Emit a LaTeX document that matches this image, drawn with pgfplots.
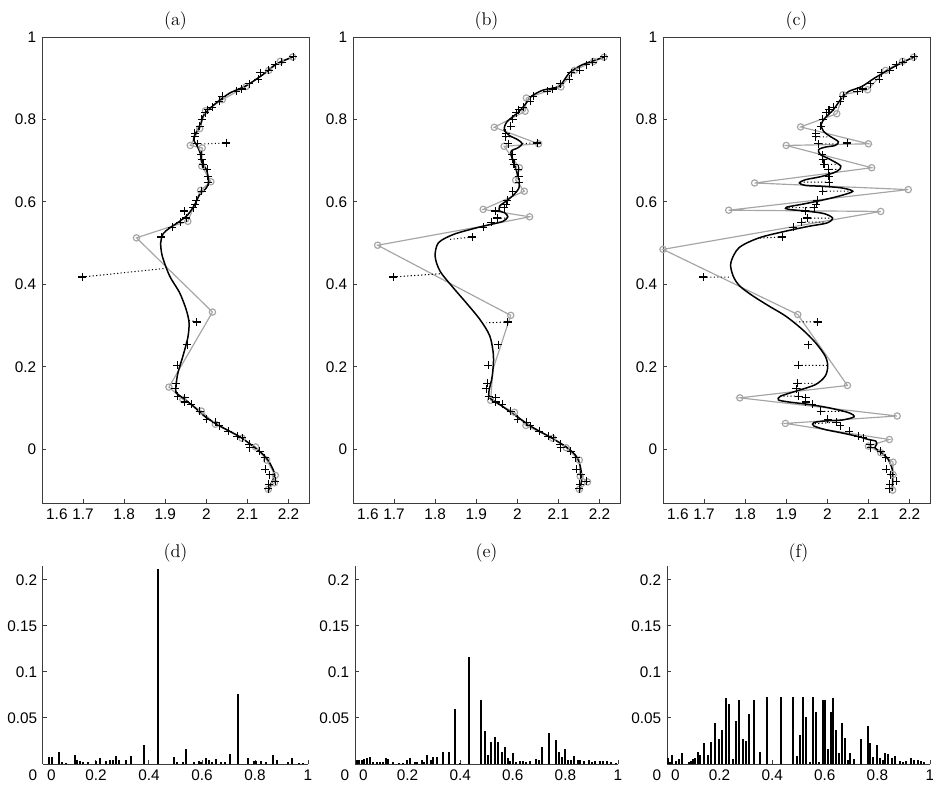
\documentclass[border=0pt]{standalone}
\usepackage{fontspec}
\newfontfamily\ticksf{Liberation Sans}
\usepackage{pgfplots}
\pgfplotsset{compat=1.18}
\usepackage{pgfplotstable}
\definecolor{lgray}{RGB}{165,165,165}
\definecolor{axgray}{RGB}{60,60,60}

% measured points (shared by the three upper panels)
\pgfplotstableread{
x y
2.212 0.952
2.184 0.939
2.168 0.933
2.152 0.919
2.131 0.913
2.126 0.897
2.105 0.887
2.086 0.874
2.073 0.868
2.039 0.856
2.032 0.844
2.015 0.830
2.004 0.824
1.998 0.816
1.989 0.801
1.984 0.784
1.972 0.767
1.972 0.758
1.978 0.741
2.049 0.743
1.988 0.715
1.989 0.703
1.992 0.691
2.002 0.679
2.004 0.662
2.005 0.648
1.989 0.626
1.976 0.604
1.973 0.594
1.968 0.586
1.946 0.578
1.951 0.561
1.937 0.551
1.917 0.539
1.890 0.515
1.698 0.418
1.977 0.309
1.954 0.254
1.929 0.204
1.927 0.160
1.924 0.147
1.930 0.129
1.947 0.125
1.948 0.115
1.963 0.109
1.984 0.092
2.001 0.073
2.023 0.066
2.032 0.057
2.054 0.044
2.075 0.032
2.087 0.028
2.105 0.012
2.106 0.004
2.130 -0.004
2.142 -0.020
2.144 -0.048
2.154 -0.061
2.168 -0.077
2.152 -0.085
2.151 -0.095
}\crosses

\pgfplotsset{
  every axis/.append style={
    /pgf/number format/.cd, fixed, precision=2, assume math mode=true, /pgfplots/.cd,
    scaled ticks=false,
    xticklabel={\ticksf\pgfmathprintnumber{\tick}},
    yticklabel={\ticksf\pgfmathprintnumber{\tick}},
    tick label style={font=\ticksf\fontsize{9.2}{10}\selectfont},
    axis line style={axgray, line width=0.6pt},
    tick style={axgray, line width=0.6pt}, major tick length=2.4pt,
    tick align=inside, clip=false},
  top/.style={scale only axis, width=160.2pt, height=279.6pt,
    xmin=1.6, xmax=2.25, ymin=-0.13, ymax=1,
    xtick pos=left, ytick pos=left,
    xtick={1.7,1.8,1.9,2,2.1,2.2},
    extra x ticks={1.6},
    extra x tick style={xticklabel style={anchor=north west, xshift=-1pt}},
    ytick={0,0.2,0.4,0.6,0.8,1}},
  bot/.style={scale only axis, height=118.8pt,
    xmin=0, xmax=1, ymin=0, ymax=0.215, axis lines*=left,
    xtick={0.2,0.4,0.6,0.8,1},
    extra x ticks={0},
    extra x tick style={xticklabel style={anchor=north west, xshift=-1pt}},
    ytick={0.05,0.1,0.15,0.2},
    extra y ticks={0},
    extra y tick style={yticklabel style={anchor=north east}}},
  grayline/.style={lgray, line width=0.7pt},
  circ/.style={only marks, mark=o, mark size=1.9pt, mark options={solid, lgray, line width=0.7pt}},
  resid/.style={black, line width=0.6pt, dash pattern=on 0.7pt off 1.4pt, unbounded coords=jump},
  fit/.style={black, line width=0.9pt, smooth},
  pts/.style={only marks, mark=+, mark size=2.4pt, mark options={black, line width=0.65pt}},
  bars/.style={ycomb, black, line width=1.2pt},
}
\newcommand\ttl{\fontsize{11}{13}\selectfont}

\begin{document}
\begin{tikzpicture}
\useasboundingbox (0,0) rectangle (559.8pt,-471pt);

% (a)
\begin{axis}[top, at={(25.2pt,-301.8pt)}, anchor=south west]
\addplot[grayline] coordinates {(2.210,0.9515) (2.180,0.941) (2.152,0.919) (2.097,0.880) (2.039,0.848) (1.998,0.821) (1.984,0.778) (1.961,0.737) (1.990,0.731) (1.989,0.687) (2.011,0.649) (1.986,0.628) (1.955,0.553) (1.916,0.541) (1.830,0.513) (2.015,0.333) (1.909,0.151) (1.943,0.121) (1.988,0.093) (2.022,0.061) (2.087,0.027) (2.120,0.006) (2.147,-0.026) (2.168,-0.063) (2.166,-0.081) (2.151,-0.097)};
\addplot[circ] coordinates {(2.210,0.9515) (2.180,0.941) (2.152,0.919) (2.097,0.880) (2.039,0.848) (1.998,0.821) (1.984,0.778) (1.961,0.737) (1.990,0.731) (1.989,0.687) (2.011,0.649) (1.986,0.628) (1.955,0.553) (1.830,0.513) (2.015,0.333) (1.909,0.151) (1.943,0.121) (1.988,0.093) (2.022,0.061) (2.087,0.027) (2.120,0.006) (2.147,-0.026) (2.168,-0.063) (2.166,-0.081) (2.151,-0.097)};
\addplot[resid] coordinates {(1.698,0.418) (1.901,0.439) (nan,nan) (2.049,0.743) (1.978,0.740) (nan,nan) (1.977,0.309) (1.958,0.313)};
\addplot[fit] coordinates {(2.212,0.952) (2.170,0.934) (2.138,0.909) (2.097,0.882) (2.057,0.864) (2.024,0.840) (2.004,0.822) (1.992,0.808) (1.985,0.784) (1.974,0.767) (1.969,0.751) (1.976,0.739) (1.985,0.719) (1.989,0.695) (2.000,0.679) (2.006,0.650) (2.000,0.634) (1.984,0.618) (1.972,0.594) (1.955,0.569) (1.935,0.553) (1.911,0.537) (1.895,0.523) (1.889,0.501) (1.893,0.468) (1.911,0.420) (1.935,0.380) (1.951,0.339) (1.958,0.307) (1.955,0.271) (1.943,0.226) (1.931,0.186) (1.926,0.153) (1.927,0.137) (1.943,0.125) (1.968,0.105) (2.000,0.077) (2.040,0.053) (2.081,0.031) (2.113,0.008) (2.138,-0.012) (2.154,-0.032) (2.166,-0.061) (2.155,-0.089) (2.151,-0.101)};
\addplot[pts] table[x=x, y=y] {\crosses};
\node[font=\ttl] at (rel axis cs:0.5,1) [yshift=9.6pt] {(a)};
\end{axis}

% (b)
\begin{axis}[top, at={(211.8pt,-301.8pt)}, anchor=south west]
\addplot[grayline] coordinates {(2.211,0.951) (2.186,0.941) (2.139,0.919) (2.106,0.879) (2.022,0.852) (2.019,0.820) (1.944,0.781) (2.052,0.741) (1.968,0.735) (2.005,0.683) (1.996,0.653) (2.017,0.626) (1.917,0.582) (2.030,0.564) (1.913,0.541) (1.660,0.495) (1.984,0.325) (1.941,0.195) (1.935,0.119) (1.993,0.090) (2.021,0.058) (2.086,0.027) (2.119,0.004) (2.151,-0.026) (2.153,-0.065) (2.171,-0.079) (2.151,-0.097)};
\addplot[circ] coordinates {(2.211,0.951) (2.186,0.941) (2.139,0.919) (2.106,0.879) (2.022,0.852) (2.019,0.820) (1.944,0.781) (2.052,0.741) (1.968,0.735) (2.005,0.683) (1.996,0.653) (2.017,0.626) (1.917,0.582) (2.030,0.564) (1.660,0.495) (1.984,0.325) (1.935,0.119) (1.993,0.090) (2.021,0.058) (2.086,0.027) (2.119,0.004) (2.151,-0.026) (2.153,-0.065) (2.171,-0.079) (2.151,-0.097)};
\addplot[resid] coordinates {(1.698,0.418) (1.812,0.426) (nan,nan) (1.890,0.515) (1.832,0.509) (nan,nan) (1.977,0.309) (1.925,0.307) (nan,nan) (2.049,0.743) (2.012,0.742) (nan,nan) (1.951,0.561) (1.975,0.561) (nan,nan) (1.972,0.758) (1.985,0.758)};
\addplot[fit] coordinates {(2.211,0.951) (2.159,0.933) (2.127,0.913) (2.102,0.881) (2.062,0.871) (2.034,0.856) (2.022,0.840) (2.005,0.820) (1.988,0.806) (1.973,0.792) (1.968,0.775) (1.981,0.761) (2.001,0.751) (2.012,0.741) (2.001,0.731) (1.985,0.723) (1.988,0.703) (1.997,0.679) (2.004,0.650) (2.004,0.634) (1.992,0.618) (1.973,0.602) (1.957,0.590) (1.957,0.578) (1.969,0.574) (1.977,0.564) (1.965,0.553) (1.933,0.545) (1.892,0.535) (1.844,0.521) (1.808,0.501) (1.800,0.468) (1.812,0.432) (1.844,0.392) (1.876,0.355) (1.909,0.315) (1.933,0.275) (1.942,0.226) (1.939,0.178) (1.931,0.141) (1.933,0.125) (1.957,0.109) (1.997,0.081) (2.038,0.053) (2.078,0.031) (2.119,0.006) (2.143,-0.016) (2.153,-0.040) (2.157,-0.069) (2.153,-0.093) (2.151,-0.101)};
\addplot[pts] table[x=x, y=y] {\crosses};
\node[font=\ttl] at (rel axis cs:0.5,1) [yshift=9.6pt] {(b)};
\end{axis}

% (c)
\begin{axis}[top, at={(397.8pt,-301.8pt)}, anchor=south west]
\addplot[grayline] coordinates {(2.210,0.951) (2.183,0.941) (2.142,0.919) (2.098,0.872) (2.038,0.860) (2.023,0.814) (1.935,0.782) (2.100,0.741) (1.900,0.737) (2.108,0.683) (1.823,0.646) (2.197,0.630) (1.760,0.580) (2.130,0.577) (1.600,0.485) (1.928,0.327) (2.049,0.155) (1.787,0.125) (2.170,0.081) (1.898,0.063) (2.151,0.024) (2.100,0.008) (2.130,-0.008) (2.160,-0.031) (2.160,-0.061) (2.159,-0.099)};
\addplot[circ] coordinates {(2.210,0.951) (2.183,0.941) (2.142,0.919) (2.098,0.872) (2.038,0.860) (2.023,0.814) (1.935,0.782) (2.100,0.741) (1.900,0.737) (2.108,0.683) (1.823,0.646) (2.197,0.630) (1.760,0.580) (2.130,0.577) (1.600,0.485) (1.928,0.327) (2.049,0.155) (1.787,0.125) (2.170,0.081) (1.898,0.063) (2.151,0.024) (2.100,0.008) (2.130,-0.008) (2.160,-0.031) (2.160,-0.061) (2.159,-0.099)};
\addplot[resid] coordinates {(1.698,0.418) (1.766,0.418) (nan,nan) (1.890,0.515) (1.830,0.512) (nan,nan) (1.977,0.309) (1.925,0.309) (nan,nan) (1.929,0.204) (2.000,0.204) (nan,nan) (1.927,0.160) (1.970,0.160) (nan,nan) (1.924,0.147) (1.950,0.147) (nan,nan) (1.930,0.129) (1.886,0.129) (nan,nan) (1.984,0.092) (2.048,0.092) (nan,nan) (2.023,0.066) (1.968,0.062) (nan,nan) (1.972,0.758) (2.008,0.758) (nan,nan) (1.978,0.741) (2.022,0.741) (nan,nan) (1.989,0.703) (2.007,0.703) (nan,nan) (1.992,0.691) (2.031,0.691) (nan,nan) (2.002,0.679) (2.025,0.679) (nan,nan) (2.005,0.648) (1.935,0.648) (nan,nan) (1.989,0.626) (2.062,0.626) (nan,nan) (1.968,0.586) (1.903,0.586) (nan,nan) (1.951,0.561) (2.013,0.561) (nan,nan) (1.937,0.551) (1.995,0.551) (nan,nan) (1.946,0.578) (1.960,0.578)};
\addplot[fit] coordinates {(2.210,0.951) (2.165,0.929) (2.116,0.901) (2.084,0.880) (2.052,0.868) (2.035,0.852) (2.015,0.824) (1.995,0.804) (1.985,0.788) (1.991,0.771) (2.007,0.759) (2.027,0.746) (2.019,0.737) (1.995,0.733) (1.979,0.727) (1.983,0.715) (2.007,0.703) (2.033,0.687) (2.023,0.674) (1.987,0.662) (1.947,0.654) (1.932,0.646) (1.947,0.640) (1.987,0.638) (2.035,0.634) (2.062,0.626) (2.035,0.616) (1.995,0.606) (1.947,0.596) (1.900,0.587) (1.906,0.582) (1.947,0.578) (1.991,0.572) (2.013,0.561) (1.999,0.549) (1.955,0.541) (1.898,0.529) (1.834,0.513) (1.785,0.489) (1.765,0.452) (1.771,0.420) (1.787,0.396) (1.819,0.372) (1.859,0.347) (1.899,0.323) (1.939,0.291) (1.971,0.259) (1.995,0.226) (2.001,0.202) (1.995,0.178) (1.971,0.157) (1.923,0.141) (1.886,0.129) (1.881,0.120) (1.906,0.115) (1.955,0.109) (2.003,0.101) (2.052,0.089) (2.065,0.079) (2.035,0.071) (1.995,0.069) (1.967,0.065) (1.967,0.057) (1.995,0.048) (2.035,0.040) (2.076,0.031) (2.100,0.024) (2.118,0.020) (2.120,0.012) (2.116,0.004) (2.132,-0.008) (2.148,-0.024) (2.158,-0.048) (2.159,-0.073) (2.158,-0.101)};
\addplot[pts] table[x=x, y=y] {\crosses};
\node[font=\ttl] at (rel axis cs:0.5,1) [yshift=9.6pt] {(c)};
\end{axis}

% (d)
\begin{axis}[bot, width=159pt, at={(25.8pt,-458.4pt)}, anchor=south west]
\addplot[bars] coordinates {(0.023,0.008) (0.034,0.008) (0.060,0.013) (0.073,0.002) (0.088,0.0015) (0.120,0.010) (0.128,0.004) (0.141,0.003) (0.151,0.002) (0.170,0.002) (0.201,0.003) (0.214,0.006) (0.236,0.003) (0.252,0.004) (0.264,0.004) (0.274,0.009) (0.287,0.004) (0.312,0.004) (0.333,0.009) (0.380,0.021) (0.434,0.212) (0.494,0.008) (0.507,0.0025) (0.528,0.0025) (0.541,0.016) (0.569,0.002) (0.589,0.003) (0.598,0.002) (0.614,0.007) (0.626,0.004) (0.639,0.002) (0.654,0.005) (0.673,0.0025) (0.687,0.0025) (0.707,0.011) (0.735,0.076) (0.772,0.006) (0.795,0.003) (0.805,0.003) (0.824,0.003) (0.840,0.002) (0.868,0.010) (0.884,0.004) (0.926,0.0025) (0.940,0.007) (0.966,0.0015) (0.981,0.001)};
\node[font=\ttl] at (rel axis cs:0.5,1) [yshift=8.1pt] {(d)};
\end{axis}

% (e)
\begin{axis}[bot, width=157.8pt, at={(213pt,-458.4pt)}, anchor=south west]
\addplot[bars] coordinates {(0.006,0.004) (0.016,0.004) (0.025,0.004) (0.035,0.005) (0.044,0.006) (0.057,0.008) (0.070,0.0025) (0.082,0.002) (0.095,0.002) (0.106,0.002) (0.118,0.007) (0.127,0.005) (0.143,0.0025) (0.168,0.0015) (0.183,0.0015) (0.199,0.004) (0.211,0.006) (0.228,0.0025) (0.237,0.0025) (0.253,0.004) (0.262,0.0025) (0.275,0.010) (0.289,0.004) (0.297,0.008) (0.310,0.008) (0.333,0.013) (0.356,0.013) (0.380,0.060) (0.399,0.0015) (0.433,0.116) (0.478,0.069) (0.496,0.036) (0.504,0.0098) (0.516,0.024) (0.532,0.029) (0.544,0.024) (0.559,0.013) (0.570,0.018) (0.580,0.0065) (0.591,0.003) (0.599,0.0115) (0.614,0.0025) (0.627,0.003) (0.637,0.003) (0.652,0.0025) (0.667,0.003) (0.690,0.005) (0.699,0.004) (0.711,0.018) (0.737,0.034) (0.763,0.026) (0.775,0.013) (0.787,0.008) (0.800,0.016) (0.810,0.004) (0.823,0.004) (0.832,0.009) (0.846,0.004) (0.857,0.004) (0.870,0.003) (0.889,0.004) (0.900,0.0025) (0.914,0.003) (0.930,0.003) (0.943,0.0035) (0.958,0.003) (0.975,0.002) (0.994,0.0015)};
\node[font=\ttl] at (rel axis cs:0.5,1) [yshift=8.1pt] {(e)};
\end{axis}

% (f)
\begin{axis}[bot, width=157.8pt, at={(400.2pt,-458.4pt)}, anchor=south west]
\addplot[bars] coordinates {(0.003,0.006) (0.010,0.0025) (0.019,0.0094) (0.035,0.003) (0.044,0.005) (0.058,0.012) (0.082,0.002) (0.091,0.003) (0.099,0.005) (0.108,0.006) (0.118,0.0127) (0.127,0.0098) (0.142,0.023) (0.154,0.0098) (0.168,0.024) (0.184,0.045) (0.196,0.0275) (0.211,0.0366) (0.224,0.072) (0.235,0.065) (0.251,0.0054) (0.262,0.047) (0.275,0.070) (0.289,0.027) (0.300,0.025) (0.313,0.054) (0.332,0.0696) (0.354,0.013) (0.380,0.0728) (0.434,0.0725) (0.478,0.0728) (0.496,0.009) (0.504,0.031) (0.516,0.0725) (0.529,0.051) (0.542,0.002) (0.557,0.0725) (0.567,0.056) (0.578,0.0025) (0.595,0.0696) (0.599,0.070) (0.614,0.0167) (0.623,0.056) (0.633,0.072) (0.643,0.037) (0.654,0.0123) (0.667,0.044) (0.678,0.0286) (0.690,0.0043) (0.696,0.0123) (0.711,0.0054) (0.737,0.0275) (0.763,0.0417) (0.772,0.0225) (0.785,0.008) (0.797,0.0207) (0.808,0.006) (0.820,0.0043) (0.829,0.0116) (0.842,0.0112) (0.854,0.006) (0.867,0.009) (0.886,0.003) (0.896,0.0025) (0.909,0.003) (0.928,0.0065) (0.939,0.0043) (0.956,0.0043) (0.966,0.003) (0.978,0.002)};
\node[font=\ttl] at (rel axis cs:0.5,1) [yshift=8.1pt] {(f)};
\end{axis}
\end{tikzpicture}
\end{document}
